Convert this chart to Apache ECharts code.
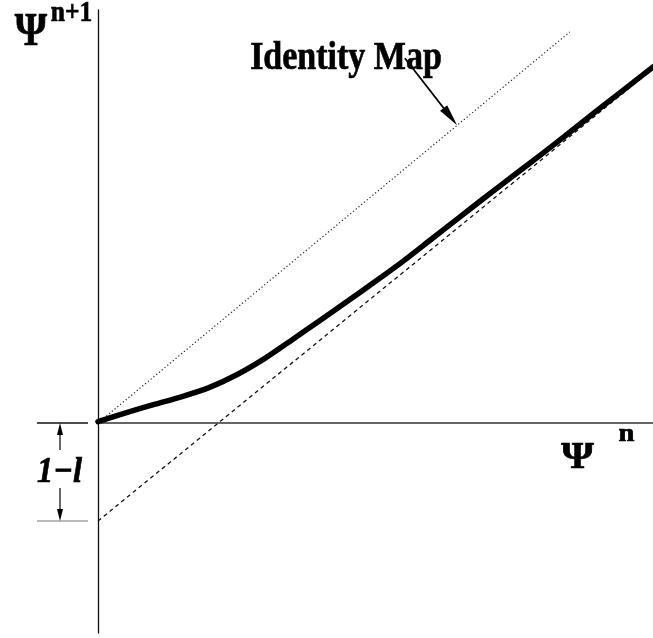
<!DOCTYPE html>
<html>
<head>
<meta charset="utf-8">
<script src="https://cdn.jsdelivr.net/npm/echarts@6/dist/echarts.min.js"></script>
<style>
  html, body { margin: 0; padding: 0; background: #fff; }
  #chart { width: 653px; height: 638px; }
</style>
</head>
<body>
<div id="chart"></div>
<script>
// Iterated map Psi^{n+1} = f(Psi^n): the map, the identity line and its shifted asymptote.
const curveX = [0, 0.5, 1, 1.5, 2, 2.5, 3, 3.5, 4, 4.5, 5, 5.5, 6, 6.5, 7, 7.5, 8, 8.5, 9, 9.5, 10];
const curveY = [0.03, 0.22, 0.40, 0.57, 0.77, 1.05, 1.40, 1.81, 2.23, 2.65, 3.08, 3.52, 3.99, 4.46, 4.93, 5.39, 5.85, 6.32, 6.80, 7.27, 7.74];
const identityX = [0, 8.5];
const identityY = [0, 8.5];
const asymptoteX = [0, 10];
const asymptoteY = [-2.13, 7.70];
const offset = 2.13;            // 1 - l
const identityArrowFrom = [5.53, 7.93];
const identityArrowTo = [6.47, 6.47];

const zip = (xs, ys) => xs.map((x, i) => [x, ys[i]]);
const serif = "'Liberation Serif', 'Times New Roman', serif";

const chart = echarts.init(document.getElementById('chart'), null, { renderer: 'canvas' });

chart.setOption({
  animation: false,
  backgroundColor: '#fff',
  grid: { left: 98, right: 0, top: 10, bottom: 5 },
  xAxis: {
    type: 'value', min: 0, max: 10,
    axisLine: { onZero: true, lineStyle: { color: '#333', width: 1.7 } },
    axisTick: { show: false }, axisLabel: { show: false }, splitLine: { show: false }
  },
  yAxis: {
    type: 'value', min: -4.565, max: 8.978,
    axisLine: { show: true, lineStyle: { color: '#111', width: 1.3 } },
    axisTick: { show: false }, axisLabel: { show: false }, splitLine: { show: false }
  },
  series: [
    {
      name: 'identity', type: 'line', data: zip(identityX, identityY), symbol: 'none',
      lineStyle: { color: '#222', width: 1.2, type: [1.2, 2.4] }, z: 2
    },
    {
      name: 'asymptote', type: 'line', data: zip(asymptoteX, asymptoteY), symbol: 'none',
      lineStyle: { color: '#111', width: 1.3, type: [4, 3.5] }, z: 3
    },
    {
      name: 'map', type: 'line', data: zip(curveX, curveY), symbol: 'none', smooth: 0.25,
      lineStyle: { color: '#000', width: 5.5, cap: 'round' }, z: 4
    }
  ]
});

function arrow(x0, y0, x1, y1, headLen, headHalf, width, color) {
  const dx = x1 - x0, dy = y1 - y0;
  const len = Math.hypot(dx, dy);
  const ux = dx / len, uy = dy / len;
  const bx = x1 - ux * headLen, by = y1 - uy * headLen;
  const px = -uy, py = ux;
  return [
    { type: 'line', shape: { x1: x0, y1: y0, x2: bx, y2: by }, style: { stroke: color, lineWidth: width } },
    { type: 'polygon', shape: { points: [[x1, y1], [bx + px * headHalf, by + py * headHalf], [bx - px * headHalf, by - py * headHalf]] },
      style: { fill: color } }
  ];
}

function text(x, y, str, font, opts) {
  return Object.assign({
    type: 'text', x: x, y: y,
    style: { text: str, x: 0, y: 0, font: font, fill: '#000', stroke: '#000', lineWidth: 0.7,
             textAlign: 'center', textVerticalAlign: 'middle' }
  }, opts || {});
}

const p0 = chart.convertToPixel({ gridIndex: 0 }, [0, 0]);
const pL = chart.convertToPixel({ gridIndex: 0 }, [0, -offset]);
const a0 = chart.convertToPixel({ gridIndex: 0 }, identityArrowFrom);
const a1 = chart.convertToPixel({ gridIndex: 0 }, identityArrowTo);
const bx = 60;
const midY = (p0[1] + pL[1]) / 2;

const graphics = [
  { type: 'line', shape: { x1: 37, y1: p0[1], x2: 88, y2: p0[1] }, style: { stroke: '#111', lineWidth: 1.3 } },
  { type: 'line', shape: { x1: 37, y1: pL[1], x2: 88, y2: pL[1] }, style: { stroke: '#777', lineWidth: 1.2 } },
  ...arrow(bx, midY - 22, bx, p0[1], 12, 3, 1.2, '#000'),
  ...arrow(bx, midY + 16, bx, pL[1], 12, 3, 1.2, '#000'),
  text(59.5, midY + 1, '1\u2212l', 'italic bold 36px ' + serif, { scaleX: 0.9 }),
  ...arrow(a0[0], a0[1], a1[0], a1[1], 22, 4.5, 1.8, '#000'),
  text(346, 58.5, 'Identity Map', 'bold 40px ' + serif, { scaleX: 0.85 }),
  text(31, 33, '\u03A8', 'bold 46px ' + serif, { scaleX: 0.9 }),
  text(71.5, 13, 'n+1', 'bold 30px ' + serif, { scaleX: 0.85 }),
  text(577.5, 458, '\u03A8', 'bold 38px ' + serif, { scaleX: 1.1 }),
  text(626.5, 434, 'n', 'bold 26px ' + serif, { scaleX: 1.1 })
];

chart.setOption({ graphic: { elements: graphics } });
</script>
</body>
</html>
